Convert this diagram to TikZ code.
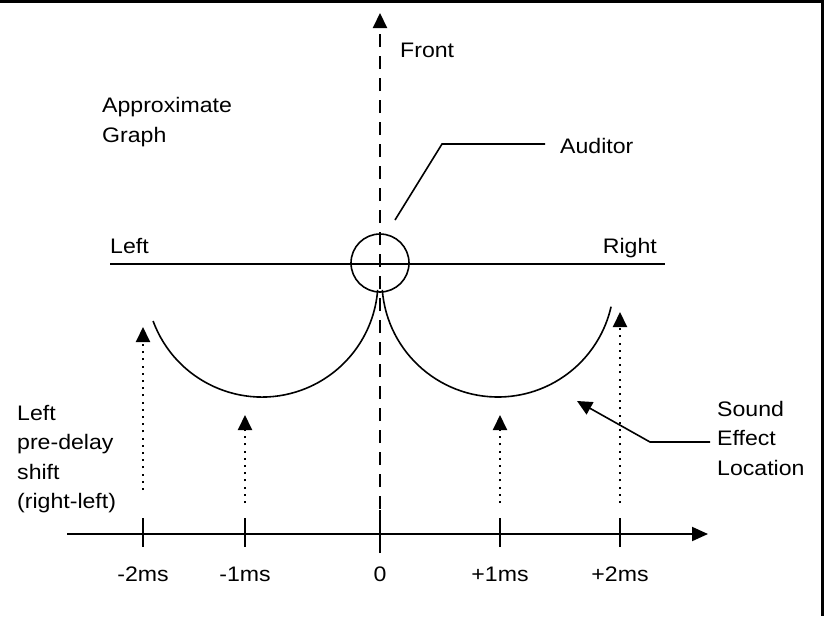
\documentclass[tikz,border=0pt]{standalone}
\usepackage{fontspec}
\setmainfont{Liberation Sans}[FakeStretch=1.1]
\usetikzlibrary{arrows.meta}
\begin{document}
\begin{tikzpicture}[x=1pt,y=-1pt,
  lbl/.style={inner sep=0pt, font=\fontsize{21}{29.5}\selectfont},
  ln/.style={line width=2pt},
  curve/.style={line width=1.6pt},
  tiphead/.style={-{Triangle[width=14pt,length=15pt]}},
  dotline/.style={line width=2pt, dash pattern=on 2pt off 5.2pt},
  frontdash/.style={line width=2pt, dash pattern=on 13pt off 9pt},
  tickmark/.style={line width=2pt}]
\useasboundingbox (0,0) rectangle (824,616);
% frame edges
\fill (0,0) rectangle (824,3);
\fill (821,0) rectangle (824,616);

% key points
\coordinate (frontbot) at (380,553);
\coordinate (fronttop) at (380,13);
\coordinate (axstart) at (67,534);
\coordinate (axend) at (708,534);
\coordinate (hl) at (110,264);
\coordinate (hr) at (665,264);

% labels
\node[lbl, anchor=base west] (front) at (400,57) {Front};
\node[lbl, anchor=north west, align=left] (approx) at (102,97.5) {Approximate\\Graph};
\node[lbl, anchor=base west] (auditor) at (560,153) {Auditor};
\node[lbl, anchor=base west] (leftlbl) at (110,253) {Left};
\node[lbl, anchor=base east] (rightlbl) at (657,253) {Right};
\node[lbl, anchor=north west, align=left] (shiftlbl) at (17,404.6) {Left\\pre-delay\\shift\\(right-left)};
\node[lbl, anchor=north west, align=left] (soundlbl) at (717,400.7) {Sound\\Effect\\Location};

\node[lbl, anchor=base] (m2) at (143,581) {-2ms};
\node[lbl, anchor=base] (m1) at (245,581) {-1ms};
\node[lbl, anchor=base] (z0) at (380,581) {0};
\node[lbl, anchor=base] (p1) at (500,581) {+1ms};
\node[lbl, anchor=base] (p2) at (620,581) {+2ms};

% front axis
\draw[frontdash, tiphead] (frontbot) -- (fronttop);
% left-right line
\draw[ln] (hl) -- (hr);
% auditor circle
\node[draw, circle, curve, minimum size=58pt, inner sep=0pt] (aud) at (380,263) {};
% curves
\draw[curve] (153.1,321) arc[start angle=159.85, end angle=4.4, radius=116];
\draw[curve] (382.3,289.9) arc[start angle=175.6, end angle=12.8, radius=116];

% time axis
\draw[ln, -{Triangle[width=14pt,length=16pt]}] (axstart) -- (axend);
\foreach \x/\n in {143/tm2,245/tm1,500/tp1,620/tp2}{
  \coordinate (\n a) at (\x,518);
  \coordinate (\n b) at (\x,547);
  \draw[tickmark] (\n a) -- (\n b);
}
\coordinate (t0a) at (380,510);
\coordinate (t0b) at (380,553);
\draw[tickmark] (t0a) -- (t0b);

% dotted arrows
\coordinate (d1b) at (143,490); \coordinate (d1t) at (143,327);
\coordinate (d2b) at (245,503); \coordinate (d2t) at (245,415);
\coordinate (d3b) at (500,503); \coordinate (d3t) at (500,415);
\coordinate (d4b) at (620,503); \coordinate (d4t) at (620,312);
\draw[dotline, tiphead] (d1b) -- (d1t);
\draw[dotline, tiphead] (d2b) -- (d2t);
\draw[dotline, tiphead] (d3b) -- (d3t);
\draw[dotline, tiphead] (d4b) -- (d4t);

% auditor leader
\coordinate (aud1) at (545,144);
\coordinate (aud2) at (442,144);
\coordinate (aud3) at (395,220);
\draw[curve] (aud1) -- (aud2) -- (aud3);

% sound effect leader
\coordinate (snd1) at (710,442);
\coordinate (snd2) at (650,442);
\coordinate (snd3) at (577,401);
\draw[curve, -{Triangle[width=14pt,length=15pt]}] (snd1) -- (snd2) -- (snd3);
\end{tikzpicture}
\end{document}
